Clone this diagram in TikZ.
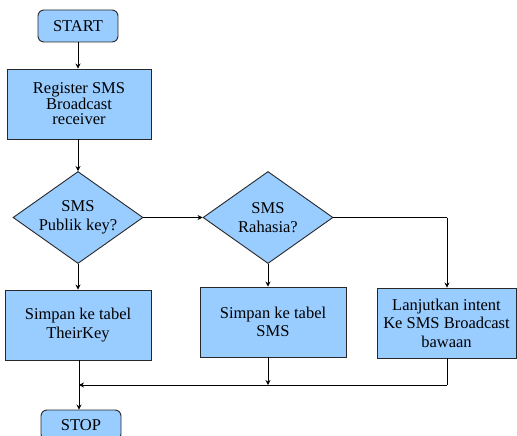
\documentclass[tikz,border=0pt]{standalone}
\usepackage{fontspec}
\newfontfamily\tnr{Liberation Serif}
\usetikzlibrary{shapes.geometric,arrows.meta}
\definecolor{boxblue}{RGB}{153,204,255}
\definecolor{edge}{RGB}{40,40,40}
\tikzset{
  base/.style={draw=edge, line width=0.9pt, fill=boxblue, align=center, inner sep=0pt,
    font=\tnr\fontsize{16.5}{18.5}\selectfont},
  term/.style={base, rounded corners=6pt, minimum width=80pt, minimum height=32pt},
  proc/.style={base, minimum width=144pt, minimum height=70pt},
  dec/.style={base, diamond, aspect=1.41, minimum width=130pt, minimum height=92pt},
  conn/.style={draw=black, line width=0.8pt},
  arr/.style={conn, -{Stealth[length=5pt,width=5pt]}}
}
\begin{document}
\begin{tikzpicture}[x=1pt,y=-1pt]
\useasboundingbox (0,0) rectangle (517,436);
\node[term] (start) at (78,26) {START};
\node[proc, font=\tnr\fontsize{16.5}{15.5}\selectfont] (reg) at (79,104) {Register SMS\\Broadcast\\receiver};
\node[dec] (d1) at (78,217.5) {SMS\\Publik key?};
\node[dec] (d2) at (268,217.5) {SMS\\Rahasia?};
\node[proc, minimum width=146pt] (b1) at (78,325) {Simpan ke tabel\\TheirKey};
\node[proc, minimum width=146pt] (b2) at (273,322) {Simpan ke tabel\\SMS};
\node[proc, minimum width=139pt] (b3) at (446.5,323) {Lanjutkan intent\\Ke SMS Broadcast\\bawaan};
\node[term, minimum height=30pt] (stop) at (81,425) {STOP};
\coordinate (m1) at (79,385);
\coordinate (m2) at (447,385);
\coordinate (c2) at (447,217.5);
\draw[arr] (start.south) -- (reg.north -| start.south);
\draw[arr] (reg.south -| d1.north) -- (d1.north);
\draw[arr] (d1.east) -- (d2.west);
\draw[arr] (d1.south) -- (b1.north -| d1.south);
\draw[arr] (d2.south) -- (b2.north -| d2.south);
\draw[conn] (d2.east) -- (c2);
\draw[arr] (c2) -- (b3.north -| c2);
\draw[arr] (b2.south -| d2.south) -- (m1 -| d2.south);
\draw[conn] (b3.south -| m2) -- (m2);
\draw[arr] (m2) -- (m1);
\draw[arr] (b1.south -| m1) -- (stop.north -| m1);
\end{tikzpicture}
\end{document}
